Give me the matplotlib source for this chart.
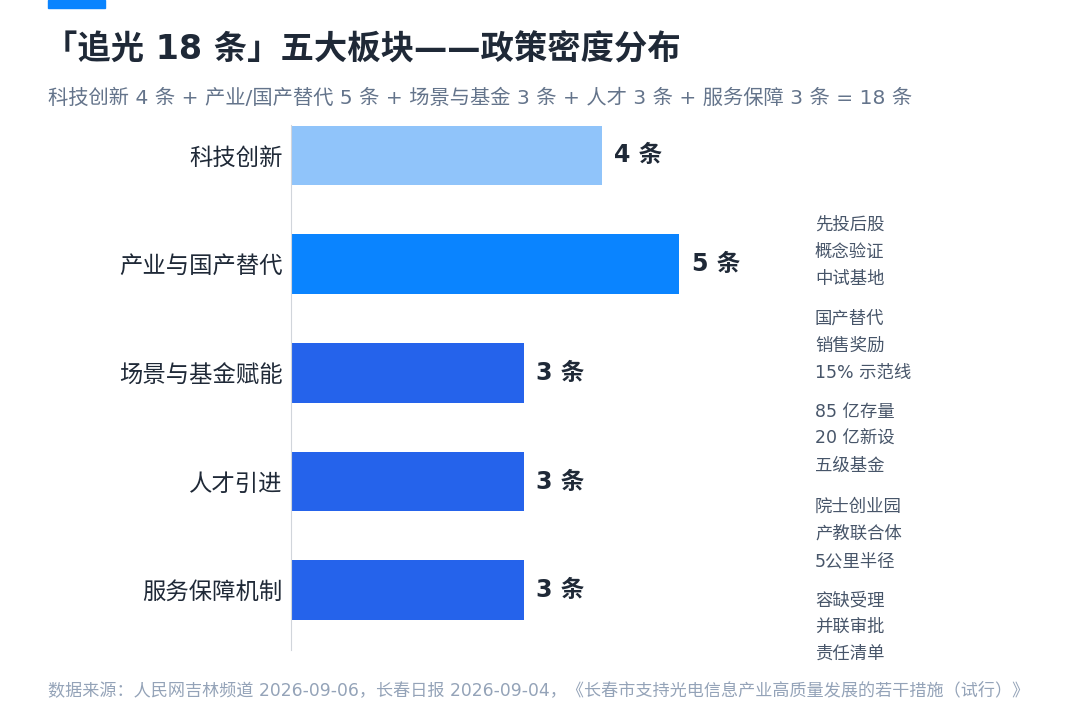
import matplotlib.pyplot as plt
from matplotlib.patches import Rectangle

plt.rcParams['font.family'] = ['DejaVu Sans', 'Noto Sans CJK SC']

categories = ["科技创新", "产业与国产替代", "场景与基金赋能", "人才引进", "服务保障机制"]
values = [4, 5, 3, 3, 3]
colors = ["#90C4FA", "#0A84FF", "#2563EB", "#2563EB", "#2563EB"]
notes = [
    ["先投后股", "概念验证", "中试基地"],
    ["国产替代", "销售奖励", "15% 示范线"],
    ["85 亿存量", "20 亿新设", "五级基金"],
    ["院士创业园", "产教联合体", "5公里半径"],
    ["容缺受理", "并联审批", "责任清单"],
]

W, H = 1080, 720
fig = plt.figure(figsize=(10.8, 7.2), dpi=100)
fig.patches.append(Rectangle((48 / W, 1 - 8 / H), 57 / W, 8 / H, transform=fig.transFigure,
                             color="#0A84FF", zorder=5))
fig.text(44 / W, 1 - 50 / H, "「追光 18 条」五大板块——政策密度分布", fontsize=24,
         fontweight="bold", color="#1F2937", va="center")
fig.text(48 / W, 1 - 98 / H,
         "科技创新 4 条 + 产业/国产替代 5 条 + 场景与基金 3 条 + 人才 3 条 + 服务保障 3 条 = 18 条",
         fontsize=14.6, color="#64748B", va="center")

ax = fig.add_axes([291 / W, 1 - 650 / H, 466 / W, 525 / H])
y = list(range(len(categories)))
ax.barh(y, values, height=0.55, color=colors)
ax.set_ylim(4.5 + 0.05, -0.5 + 0.22)
ax.set_xlim(0, 6)
ax.set_yticks(y)
ax.set_yticklabels(categories, fontsize=16.8, color="#1F2937")
ax.tick_params(axis="y", length=0, pad=6)
ax.set_xticks([])
for s in ["top", "right", "bottom"]:
    ax.spines[s].set_visible(False)
ax.spines["left"].set_color("#D1D5DB")
for yi, v in zip(y, values):
    ax.text(v + 0.16, yi, f"{v} 条", fontsize=17, fontweight="bold", color="#1F2937", va="center")

starts = [225, 319, 412, 507, 600]
for st, lines in zip(starts, notes):
    for k, line in enumerate(lines):
        fig.text(815 / W, 1 - (st + 27 * k) / H, line, fontsize=12.5, color="#475569", va="center")

fig.text(48 / W, 1 - 690 / H,
         "数据来源：人民网吉林频道 2026-09-06，长春日报 2026-09-04，《长春市支持光电信息产业高质量发展的若干措施（试行）》",
         fontsize=12.3, color="#94A3B8", va="center")

fig.savefig("out.png", dpi=100)
